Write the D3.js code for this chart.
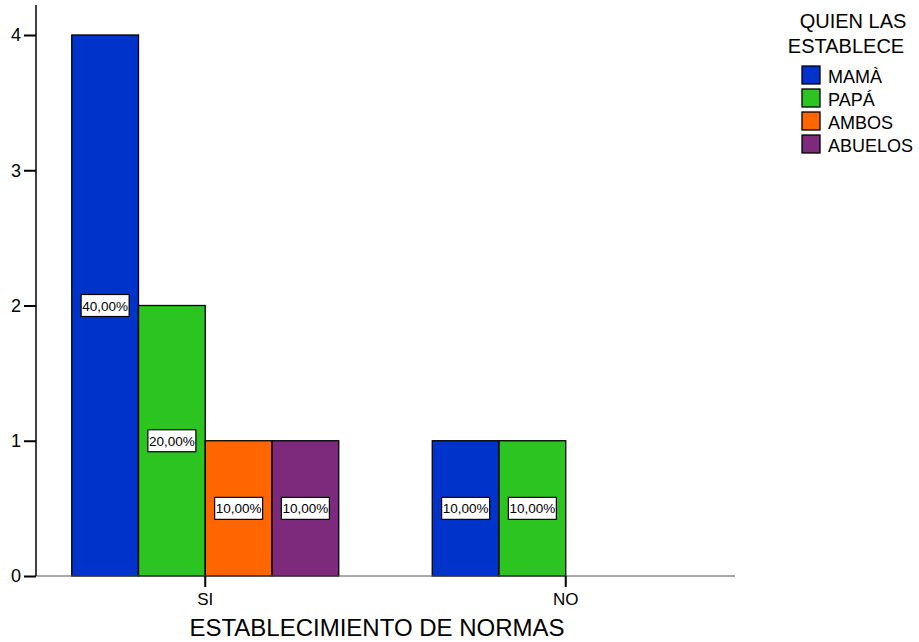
<!DOCTYPE html>
<html>
<head>
<meta charset="utf-8">
<script src="https://cdn.jsdelivr.net/npm/d3@7"></script>
<style>
  body { margin: 0; background: #fff; }
  text { font-family: Arial, "Liberation Sans", sans-serif; fill: #000; }
</style>
</head>
<body>
<svg id="chart" width="919" height="642"></svg>
<script>
// data
var categories = ["SI", "NO"];
var series = ["MAMÀ", "PAPÁ", "AMBOS", "ABUELOS"];
var counts = {
    "SI": [4, 2, 1, 1],
    "NO": [1, 1, 0, 0]
};
var percents = {
    "SI": ["40,00%", "20,00%", "10,00%", "10,00%"],
    "NO": ["10,00%", "10,00%", "", ""]
};
var yTicks = [0, 1, 2, 3, 4];
var colors = ["#0033c9", "#2bc420", "#ff6600", "#7e2a7c"];

var svg = d3.select("#chart");

var x0 = d3.scaleBand().domain(categories).range([25, 746]);
var groupW = 267;
var x1 = d3.scaleBand().domain(series).range([0, groupW]);
var y = d3.scaleLinear().domain([0, 4]).range([576, 35]);
var color = d3.scaleOrdinal().domain(series).range(colors);

// bars
var groups = svg.selectAll("g.grp")
    .data(categories)
    .enter().append("g")
    .attr("class", "grp")
    .attr("transform", function(d) {
        return "translate(" + (x0(d) + x0.bandwidth() / 2 - groupW / 2) + ",0)";
    });

var cells = groups.selectAll("g.cell")
    .data(function(c) {
        return series.map(function(s, i) {
            return {cat: c, name: s, value: counts[c][i], label: percents[c][i]};
        }).filter(function(d) { return d.value > 0; });
    })
    .enter().append("g").attr("class", "cell");

cells.append("rect")
    .attr("x", function(d) { return x1(d.name); })
    .attr("y", function(d) { return y(d.value); })
    .attr("width", x1.bandwidth())
    .attr("height", function(d) { return y(0) - y(d.value); })
    .attr("fill", function(d) { return color(d.name); })
    .attr("stroke", "#000")
    .attr("stroke-width", 1.3);

// x axis line (gray)
svg.append("line")
    .attr("x1", 36).attr("x2", 735)
    .attr("y1", y(0)).attr("y2", y(0))
    .attr("stroke", "#555").attr("stroke-width", 1);

// percentage labels
cells.append("rect")
    .attr("x", function(d) { return x1(d.name) + x1.bandwidth() / 2 - 24; })
    .attr("y", function(d) { return (y(d.value) + y(0)) / 2 - 11; })
    .attr("width", 48).attr("height", 22)
    .attr("fill", "#fff").attr("stroke", "#000").attr("stroke-width", 1.2);
cells.append("text")
    .attr("x", function(d) { return x1(d.name) + x1.bandwidth() / 2; })
    .attr("y", function(d) { return (y(d.value) + y(0)) / 2 + 5; })
    .attr("text-anchor", "middle")
    .style("font-size", "13.5px")
    .text(function(d) { return d.label; });

// y axis
var yAxis = svg.append("g").attr("transform", "translate(36,0)")
    .call(d3.axisLeft(y).tickValues(yTicks).tickSize(12).tickPadding(3).tickFormat(d3.format("d")));
yAxis.select(".domain").remove();
yAxis.selectAll(".tick line").attr("stroke", "#000").attr("stroke-width", 2);
yAxis.selectAll(".tick text").style("font-size", "18px").attr("fill", "#000");
svg.append("line")
    .attr("x1", 36).attr("x2", 36)
    .attr("y1", 5).attr("y2", y(0))
    .attr("stroke", "#000").attr("stroke-width", 1.5);

// x axis ticks
var xAxis = svg.append("g").attr("transform", "translate(0," + y(0) + ")")
    .call(d3.axisBottom(x0).tickSize(11).tickPadding(0));
xAxis.select(".domain").remove();
xAxis.selectAll(".tick line").attr("stroke", "#000").attr("stroke-width", 2);
xAxis.selectAll(".tick text").style("font-size", "17px").attr("fill", "#000")
    .attr("dy", null).attr("y", 29);

svg.append("text")
    .attr("x", 377).attr("y", 636)
    .attr("text-anchor", "middle")
    .style("font-size", "24px")
    .text("ESTABLECIMIENTO DE NORMAS");

// legend
var legend = svg.append("g");
legend.append("text").attr("x", 853).attr("y", 28).attr("text-anchor", "middle")
    .style("font-size", "20px").text("QUIEN LAS");
legend.append("text").attr("x", 846).attr("y", 53).attr("text-anchor", "middle")
    .style("font-size", "20px").text("ESTABLECE");
var items = legend.selectAll("g.item").data(series).enter().append("g")
    .attr("class", "item")
    .attr("transform", function(d, i) { return "translate(802," + (66 + i * 23) + ")"; });
items.append("rect").attr("width", 18).attr("height", 18)
    .attr("fill", function(d) { return color(d); })
    .attr("stroke", "#000").attr("stroke-width", 1.3);
items.append("text").attr("x", 26).attr("y", 17)
    .style("font-size", "18px").text(function(d) { return d; });
</script>
</body>
</html>
